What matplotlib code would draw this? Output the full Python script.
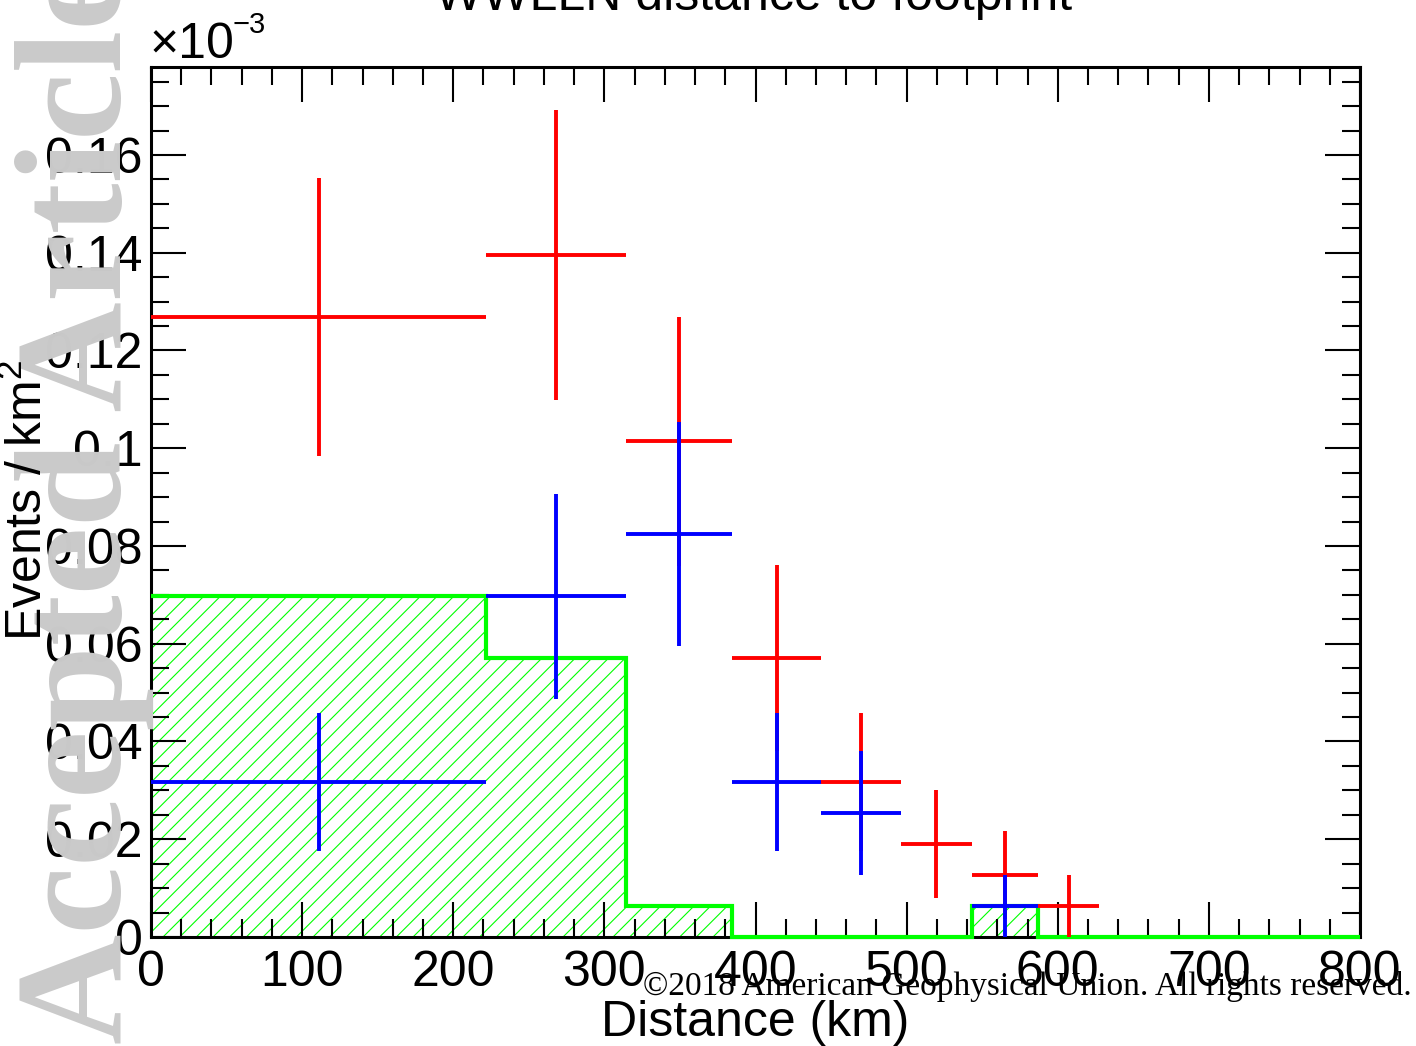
import numpy as np
import matplotlib
matplotlib.use("Agg")
import matplotlib.pyplot as plt
from matplotlib.ticker import MultipleLocator, FixedLocator, FixedFormatter

plt.rcParams['font.family'] = ['Liberation Sans', 'DejaVu Sans']
plt.rcParams['mathtext.fontset'] = 'custom'
plt.rcParams['mathtext.rm'] = 'Liberation Sans'
plt.rcParams['mathtext.it'] = 'Liberation Sans:italic'
plt.rcParams['hatch.linewidth'] = 0.8

# bin edges of the distance histogram (km)
edges = [0, 222, 314, 384.5, 443.5, 496, 543.5, 587, 627.5, 665.5, 702, 736, 768.5, 800]

# green: reference histogram (x1e-3 events / km^2), one value per bin
green_vals = [0.0697, 0.0571, 0.0063, 0, 0, 0, 0.0063, 0, 0, 0, 0, 0, 0]

# red points: bins 1..8
red_bins = [0, 1, 2, 3, 4, 5, 6, 7]
red_vals = [0.1268, 0.1395, 0.1014, 0.0571, 0.0317, 0.0190, 0.0127, 0.0063]
red_errs = [0.0284, 0.0297, 0.0254, 0.0190, 0.0142, 0.0110, 0.0090, 0.0063]

# blue points (empty bins not drawn)
blue_bins = [0, 1, 2, 3, 4, 6]
blue_vals = [0.0317, 0.0697, 0.0824, 0.0317, 0.0254, 0.0063]
blue_errs = [0.0142, 0.0210, 0.0229, 0.0142, 0.0127, 0.0063]

ytick_vals = [0, 0.02, 0.04, 0.06, 0.08, 0.10, 0.12, 0.14, 0.16]
ytick_labels = ["0", "0.02", "0.04", "0.06", "0.08", "0.1", "0.12", "0.14", "0.16"]

edges_a = np.array(edges)
centers = 0.5 * (edges_a[1:] + edges_a[:-1])
halfw = 0.5 * np.diff(edges_a)

W, H = 1416, 1046
fig = plt.figure(figsize=(W / 100, H / 100), dpi=100)
ax = fig.add_axes([151 / W, 1 - 937 / H, (1360 - 151) / W, (937 - 67) / H])

# green hatched histogram + outline
ax.stairs(green_vals, edges, fill=True, hatch='//', facecolor='none',
          edgecolor='#00ff00', linewidth=0, zorder=1)
ax.stairs(green_vals, edges, color='#00ff00', linewidth=3, zorder=3,
          baseline=None, clip_on=False)

rb = np.array(red_bins)
ax.errorbar(centers[rb], red_vals, xerr=halfw[rb], yerr=red_errs, fmt='none',
            ecolor='#ff0000', elinewidth=2.8, capsize=0, zorder=4)
bb = np.array(blue_bins)
ax.errorbar(centers[bb], blue_vals, xerr=halfw[bb], yerr=blue_errs, fmt='none',
            ecolor='#0000ff', elinewidth=2.8, capsize=0, zorder=5)

ax.set_xlim(0, 800)
ax.set_ylim(0, 0.178)

ax.xaxis.set_major_locator(MultipleLocator(100))
ax.xaxis.set_minor_locator(MultipleLocator(20))
ax.yaxis.set_major_locator(FixedLocator(ytick_vals))
ax.yaxis.set_major_formatter(FixedFormatter(ytick_labels))
ax.yaxis.set_minor_locator(MultipleLocator(0.005))

ax.tick_params(which='both', direction='in', top=True, right=True, width=1.5)
ax.tick_params(which='major', length=25, labelsize=36)
ax.tick_params(which='minor', length=13)
ax.tick_params(axis='x', which='major', pad=9)
ax.tick_params(axis='y', which='major', pad=6)
for s in ax.spines.values():
    s.set_linewidth(2.2)

# axis titles and headers
fig.text(755 / W, 1 - 1036 / H, "Distance (km)", ha='center', va='baseline', fontsize=36)
fig.text(42 / W, 1 - 500 / H, "Events / km$^{2}$", rotation=90, rotation_mode='anchor',
         ha='center', va='baseline', fontsize=36, zorder=12)
fig.text(754 / W, 1 - 10 / H, "WWLLN distance to footprint", ha='center', va='baseline',
         fontsize=36)
fig.text(150 / W, 1 - 58 / H, "\u00d710", ha='left', va='baseline', fontsize=36)
fig.text(233 / W, 1 - 33 / H, "\u22123", ha='left', va='baseline', fontsize=21)

# watermark and copyright
fig.text(121 / W, 1 - 1044 / H, "Accepted Article", rotation=90, rotation_mode='anchor',
         ha='left', va='baseline', color='#cacaca', family='Liberation Serif',
         fontweight='bold', fontsize=110, zorder=10)
fig.text(1412 / W, 1 - 995 / H, "\u00a92018 American Geophysical Union. All rights reserved.",
         ha='right', va='baseline', family='Liberation Serif', fontsize=24, zorder=11)

fig.savefig("out.png", dpi=100)
